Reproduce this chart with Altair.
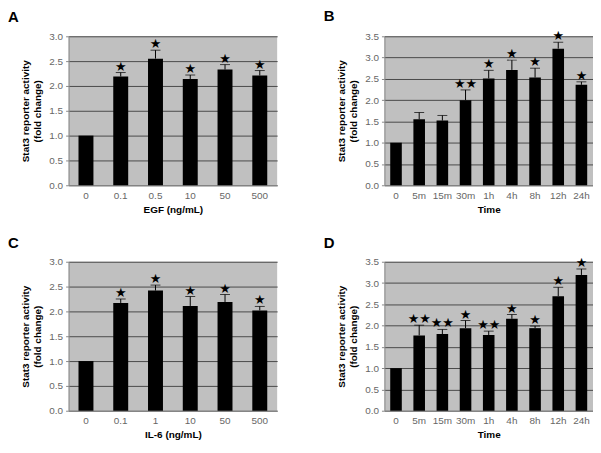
import altair as alt
import pandas as pd

# Panel A: EGF dose
a_cats = ["0", "0.1", "0.5", "10", "50", "500"]
a_vals = [1.0, 2.19, 2.55, 2.14, 2.33, 2.21]
a_errs = [1.0, 2.27, 2.72, 2.22, 2.43, 2.31]
a_stars = ["", "★", "★", "★", "★", "★"]

# Panel B: EGF time course
b_cats = ["0", "5m", "15m", "30m", "1h", "4h", "8h", "12h", "24h"]
b_vals = [1.0, 1.55, 1.52, 2.0, 2.51, 2.71, 2.53, 3.21, 2.36]
b_errs = [1.0, 1.71, 1.64, 2.24, 2.70, 2.94, 2.75, 3.36, 2.43]
b_stars = ["", "", "", "★★", "★", "★", "★", "★", "★"]

# Panel C: IL-6 dose
c_cats = ["0", "0.1", "1", "10", "50", "500"]
c_vals = [1.0, 2.17, 2.42, 2.11, 2.19, 2.02]
c_errs = [1.0, 2.25, 2.53, 2.30, 2.34, 2.10]
c_stars = ["", "★", "★", "★", "★", "★"]

# Panel D: IL-6 time course
d_cats = ["0", "5m", "15m", "30m", "1h", "4h", "8h", "12h", "24h"]
d_vals = [1.0, 1.77, 1.80, 1.94, 1.78, 2.16, 1.94, 2.69, 3.19]
d_errs = [1.0, 2.01, 1.91, 2.12, 1.87, 2.26, 1.99, 2.90, 3.33]
d_stars = ["", "★★", "★★", "★", "★★", "★", "★", "★", "★"]

YTITLE = ["Stat3 reporter activity", "(fold change)"]


def panel(letter, cats, vals, errs, stars, ymax, xtitle, pin, width=210, height=150):
    df = pd.DataFrame({"cat": cats, "val": vals, "err": errs, "star": stars})
    xaxis = alt.Axis(labelAngle=0, ticks=False, labelPadding=5, titlePadding=4,
                     labelColor="#666666", labelFontSize=10, domainColor="#888888")
    xscale = alt.Scale(paddingInner=pin, paddingOuter=pin / 2)
    yaxis = alt.Axis(values=[i * 0.5 for i in range(int(ymax * 2) + 1)], format=".1f",
                     grid=True, gridColor="#4a4a4a", gridWidth=1,
                     tickSize=3, tickColor="#888888", domainColor="#888888",
                     labelPadding=3, labelColor="#666666", labelFontSize=10,
                     titlePadding=6)
    yscale = alt.Scale(domain=[0, ymax], nice=False)

    def X():
        return alt.X("cat:N", sort=cats, title=xtitle, scale=xscale, axis=xaxis)

    def Y(field):
        return alt.Y(field, title=YTITLE, scale=yscale, axis=yaxis)

    base = alt.Chart(df)
    bars = base.mark_bar(color="black").encode(x=X(), y=Y("val:Q"))
    rule = base.mark_rule(color="black", strokeWidth=1).encode(
        x=X(), y=Y("val:Q"), y2="err:Q")
    cap = base.transform_filter("datum.err > datum.val").mark_tick(
        color="black", thickness=1, size=10).encode(x=X(), y=Y("err:Q"))
    txt = base.mark_text(font="DejaVu Sans", fontSize=13, baseline="alphabetic",
                         dy=-2, color="black").encode(
        x=X(), y=Y("err:Q"), text="star:N")
    return alt.layer(bars, rule, cap, txt).properties(
        width=width, height=height,
        title=alt.TitleParams(letter, anchor="start", frame="group", dx=-61,
                              fontSize=15, fontWeight="bold", offset=6),
    )


pA = panel("A", a_cats, a_vals, a_errs, a_stars, 3.0, "EGF (ng/mL)", 0.57)
pB = panel("B", b_cats, b_vals, b_errs, b_stars, 3.5, "Time", 0.5)
pC = panel("C", c_cats, c_vals, c_errs, c_stars, 3.0, "IL-6 (ng/mL)", 0.57)
pD = panel("D", d_cats, d_vals, d_errs, d_stars, 3.5, "Time", 0.5)

chart = alt.vconcat(
    alt.hconcat(pA, pB, spacing=47),
    alt.hconcat(pC, pD, spacing=47),
    spacing=22,
).properties(
    padding={"left": 0, "top": 0, "right": 0, "bottom": 0},
).configure(
    font="Liberation Sans",
).configure_view(
    fill="#c0c0c0", strokeWidth=0,
).configure_axis(
    titleFontSize=10, titleFontWeight="bold", titleColor="black", titleLineHeight=12,
).configure_title(
    color="black",
)

chart.save("out.html", embed_options={"renderer": "svg", "actions": False})
